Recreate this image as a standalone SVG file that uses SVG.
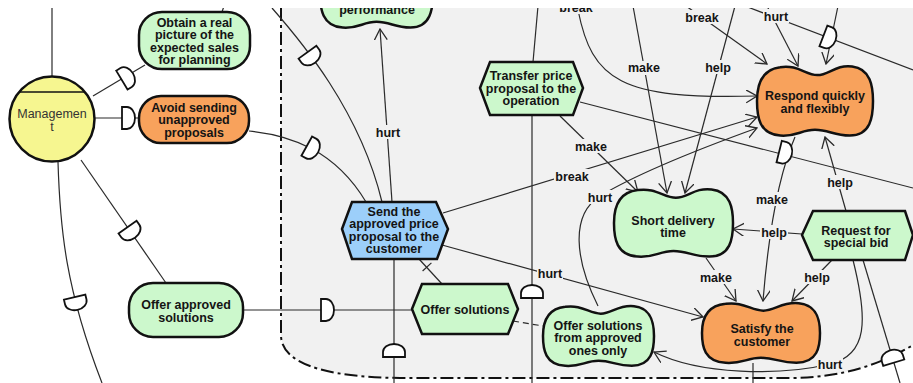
<svg xmlns="http://www.w3.org/2000/svg" xmlns:xlink="http://www.w3.org/1999/xlink" width="913" height="383" viewBox="0 0 913 383">
<style>
.ln{fill:none;stroke:#2a2a2a;stroke-width:1.2}
.ar{marker-end:url(#ah)}
.nd{stroke:#111;stroke-width:2.5}
.bean{vector-effect:non-scaling-stroke}
.g{fill:#ccf8cc}.o{fill:#f8a25c}.b{fill:#9ccffa}.y{fill:#f6f690}
.t{font-family:"Liberation Sans",Arial,sans-serif;font-size:12.5px;font-weight:bold;fill:#141414;text-anchor:middle}
.tn{font-family:"Liberation Sans",Arial,sans-serif;font-size:12.5px;fill:#333;text-anchor:middle}
.lb{fill:#f1f1f1}
.d{fill:#fff;stroke:#111;stroke-width:1.8}
.bd{fill:none;stroke:#111;stroke-width:2;stroke-dasharray:13 4 3 4}
</style>
<defs>
<marker id="ah" markerUnits="userSpaceOnUse" markerWidth="12" markerHeight="14" refX="11" refY="6.5" orient="auto">
<path d="M0,0 L11,6.5 L0,13" fill="none" stroke="#2a2a2a" stroke-width="1.3"/>
</marker>
<path id="D" d="M-6,-11 H-1 A8,11 0 0 1 -1,11 H-6 Z"/>
<path id="bean" class="bean" d="M20,3 C35,-1 42,14 52,14 C62,14 68,-1 82,2 C98,5 100,30 100,50 C100,72 98,98 80,98 C66,98 62,90 50,90 C38,90 34,100 20,98 C2,96 0,72 0,50 C0,28 4,6 20,3 Z"/>
</defs>

<rect width="913" height="383" fill="#fff"/>
<path d="M281,0 L281,335 C281,362 320,377 400,378 L790,378 C845,378 885,362 913,345 L913,0 Z" fill="#f1f1f1"/>
<path class="bd" d="M281,8 L281,335 C281,362 320,377 400,378 L790,378 C845,378 885,362 913,345"/>

<g id="connectors">
<line class="ln" x1="52" y1="8" x2="52" y2="76"/>
<line class="ln" x1="224" y1="6" x2="222" y2="12"/>
<line class="ln" x1="93" y1="96" x2="145" y2="65"/>
<line class="ln" x1="95" y1="118" x2="139" y2="118"/>
<path class="ln" d="M249,131 C290,135 335,150 366,202"/>
<path class="ln" d="M272,8 C300,40 360,110 382,202"/>
<line class="ln ar" x1="392" y1="202" x2="380" y2="29"/>
<line class="ln" x1="81" y1="160" x2="166" y2="283"/>
<path class="ln" d="M58,162 C60,230 66,290 102,383"/>
<line class="ln" x1="243" y1="310" x2="412" y2="310"/>
<line class="ln" x1="394" y1="259" x2="394" y2="383"/>
<line class="ln" x1="419" y1="259" x2="442" y2="284"/>
<line class="ln" x1="422.6" y1="271" x2="431.4" y2="262.9"/>
<line class="ln" x1="513" y1="321" x2="543" y2="326" stroke-dasharray="6 4"/>
<line class="ln" x1="538" y1="6" x2="533" y2="62"/>
<line class="ln" x1="532" y1="115" x2="532" y2="383"/>
<line class="ln" x1="580" y1="102" x2="913" y2="188"/>
<line class="ln ar" x1="560" y1="116" x2="638" y2="192"/>
<line class="ln ar" x1="443" y1="213" x2="757" y2="117"/>
<path class="ln ar" d="M598,306 C575,260 570,215 600,196 C640,172 710,145 757,128"/>
<line class="ln ar" x1="442" y1="245" x2="703" y2="317"/>
<path class="ln ar" d="M578,10 C592,80 620,100 757,96"/>
<line class="ln ar" x1="633" y1="6" x2="667" y2="193"/>
<line class="ln ar" x1="735" y1="6" x2="685" y2="193"/>
<line class="ln ar" x1="686" y1="6" x2="767" y2="64"/>
<line class="ln ar" x1="767" y1="6" x2="798" y2="66"/>
<line class="ln ar" x1="838" y1="6" x2="826" y2="64"/>
<line class="ln" x1="745" y1="6" x2="913" y2="70"/>
<path class="ln ar" d="M795,137 Q772,190 763,301"/>
<line class="ln ar" x1="846" y1="211" x2="825" y2="137"/>
<line class="ln ar" x1="802" y1="234" x2="733" y2="229"/>
<line class="ln ar" x1="706" y1="258" x2="736" y2="301"/>
<line class="ln ar" x1="832" y1="260" x2="792" y2="301"/>
<path class="ln ar" d="M853,260 C868,320 868,355 830,364 C780,376 700,375 654,352"/>
<line class="ln" x1="863" y1="260" x2="900" y2="383"/>
<line class="ln" x1="753" y1="363" x2="753" y2="383"/>

<use xlink:href="#D" class="d" transform="translate(127,77) rotate(-31)"/>
<use xlink:href="#D" class="d" transform="translate(128,118)"/>
<use xlink:href="#D" class="d" transform="translate(312,149) rotate(29)"/>
<use xlink:href="#D" class="d" transform="translate(311,57) rotate(54)"/>
<use xlink:href="#D" class="d" transform="translate(131,232) rotate(55)"/>
<use xlink:href="#D" class="d" transform="translate(76,303) rotate(77)"/>
<use xlink:href="#D" class="d" transform="translate(327,310)"/>
<use xlink:href="#D" class="d" transform="translate(394,351) rotate(-90)"/>
<use xlink:href="#D" class="d" transform="translate(532,292) rotate(-90)"/>
<use xlink:href="#D" class="d" transform="translate(785,153) rotate(14)"/>
<use xlink:href="#D" class="d" transform="translate(829,38) rotate(21)"/>
<use xlink:href="#D" class="d" transform="translate(892,357) rotate(-107)"/>

<g class="lbl"><rect class="lb" x="375" y="125" width="26" height="14"/><text class="t" x="388" y="136.5">hurt</text></g>
<g class="lbl"><rect class="lb" x="558" y="0" width="36" height="14"/><text class="t" x="576" y="11.5">break</text></g>
<g class="lbl"><rect class="lb" x="627" y="61" width="34" height="14"/><text class="t" x="644" y="72">make</text></g>
<g class="lbl"><rect class="lb" x="704" y="60" width="28" height="14"/><text class="t" x="718" y="71.5">help</text></g>
<g class="lbl"><rect class="lb" x="684" y="10" width="36" height="14"/><text class="t" x="702" y="21.5">break</text></g>
<g class="lbl"><rect class="lb" x="763" y="9" width="26" height="14"/><text class="t" x="776" y="20.5">hurt</text></g>
<g class="lbl"><rect class="lb" x="574" y="139" width="34" height="14"/><text class="t" x="591" y="150.5">make</text></g>
<g class="lbl"><rect class="lb" x="554" y="169" width="36" height="14"/><text class="t" x="572" y="180.5">break</text></g>
<g class="lbl"><rect class="lb" x="587" y="190" width="26" height="14"/><text class="t" x="600" y="201.5">hurt</text></g>
<g class="lbl"><rect class="lb" x="537" y="266" width="26" height="14"/><text class="t" x="550" y="277.5">hurt</text></g>
<g class="lbl"><rect class="lb" x="826" y="175" width="28" height="14"/><text class="t" x="840" y="186.5">help</text></g>
<g class="lbl"><rect class="lb" x="755" y="192" width="34" height="14"/><text class="t" x="772" y="203.5">make</text></g>
<g class="lbl"><rect class="lb" x="760" y="225" width="28" height="14"/><text class="t" x="774" y="236.5">help</text></g>
<g class="lbl"><rect class="lb" x="699" y="270" width="34" height="14"/><text class="t" x="716" y="281.5">make</text></g>
<g class="lbl"><rect class="lb" x="803" y="270" width="28" height="14"/><text class="t" x="817" y="281.5">help</text></g>
<g class="lbl"><rect class="lb" x="817" y="357" width="26" height="14"/><text class="t" x="830" y="368.5">hurt</text></g>
</g>

<g id="management">
<circle class="nd y" cx="52" cy="119" r="42.5" stroke-width="2"/>
<line x1="19.5" y1="92" x2="84.5" y2="92" stroke="#111" stroke-width="1.5"/>
<text class="tn" x="52" y="117.5">Managemen</text>
<text class="tn" x="52" y="130.5">t</text>
</g>

<g id="obtain">
<rect class="nd g" x="139" y="12" width="111" height="57" rx="23"/>
<text class="t" x="194.5" y="26.5">Obtain a real</text>
<text class="t" x="194.5" y="39">picture of the</text>
<text class="t" x="194.5" y="51.5">expected sales</text>
<text class="t" x="194.5" y="64">for planning</text>
</g>

<g id="avoid">
<rect class="nd o" x="139" y="96" width="110" height="47" rx="22"/>
<text class="t" x="194" y="111.5">Avoid sending</text>
<text class="t" x="194" y="124">unapproved</text>
<text class="t" x="194" y="136.5">proposals</text>
</g>

<g id="offer-approved">
<rect class="nd g" x="129" y="283" width="114" height="54" rx="24"/>
<text class="t" x="186" y="308.5">Offer approved</text>
<text class="t" x="186" y="321.5">solutions</text>
</g>

<g id="performance">
<use xlink:href="#bean" class="nd g" transform="translate(320,-43) scale(1.13,0.72)"/>
<text class="t" x="377" y="13.5">performance</text>
</g>

<g id="send">
<polygon class="nd b" points="342,229 352,202 436,202 448,229 437,259 352,259"/>
<text class="t" x="394" y="215.5">Send the</text>
<text class="t" x="394" y="228">approved price</text>
<text class="t" x="394" y="240.5">proposal to the</text>
<text class="t" x="394" y="253">customer</text>
</g>

<g id="offer-solutions">
<polygon class="nd g" points="412,309 422,284 508,284 518,309 508,334 422,334"/>
<text class="t" x="465" y="313.5">Offer solutions</text>
</g>

<g id="transfer">
<polygon class="nd g" points="480,88 490,62 573,62 583,88 573,115 490,115"/>
<text class="t" x="531" y="80">Transfer price</text>
<text class="t" x="531" y="92.5">proposal to the</text>
<text class="t" x="531" y="105">operation</text>
</g>

<g id="respond">
<use xlink:href="#bean" class="nd o" transform="translate(757,65) scale(1.16,0.72)"/>
<text class="t" x="815" y="100">Respond quickly</text>
<text class="t" x="815" y="113">and flexibly</text>
</g>

<g id="short-delivery">
<use xlink:href="#bean" class="nd g" transform="translate(614,188) scale(1.19,0.70)"/>
<text class="t" x="673" y="224.5">Short delivery</text>
<text class="t" x="673" y="237">time</text>
</g>

<g id="request">
<polygon class="nd g" points="802,235 813,211 905,211 913,235 905,260 813,260"/>
<text class="t" x="856" y="234.5">Request for</text>
<text class="t" x="856" y="247">special bid</text>
</g>

<g id="satisfy">
<use xlink:href="#bean" class="nd o" transform="translate(702,302) scale(1.18,0.62)"/>
<text class="t" x="762" y="332.5">Satisfy the</text>
<text class="t" x="762" y="345.5">customer</text>
</g>

<g id="offer-from-approved">
<use xlink:href="#bean" class="nd g" transform="translate(543,305) scale(1.11,0.62)"/>
<text class="t" x="598" y="329.5">Offer solutions</text>
<text class="t" x="598" y="342">from approved</text>
<text class="t" x="598" y="355">ones only</text>
</g>

<rect x="0" y="0" width="913" height="8" fill="#fff"/>
</svg>
